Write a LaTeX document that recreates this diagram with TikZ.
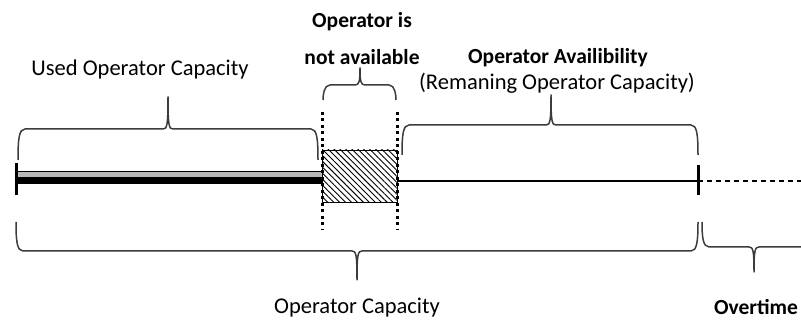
\documentclass[tikz,border=0pt]{standalone}
\usepackage{fontspec}
\setmainfont{Carlito}
\usetikzlibrary{patterns.meta}
\definecolor{bracegray}{RGB}{60,60,60}

\begin{document}
\begin{tikzpicture}[x=1pt, y=1pt,
    lbl/.style={inner sep=0pt, font=\fontsize{22.5}{26}\selectfont},
    lblb/.style={lbl, font=\fontsize{21.5}{25}\selectfont\bfseries},
    bracel/.style={draw=bracegray, line width=1.5pt, line join=round},
    timeline/.style={line width=1.3pt},
    dotline/.style={line width=3pt, dash pattern=on 3pt off 3.5pt}
  ]
  \useasboundingbox (0,0) rectangle (801,320);

  % time line
  \fill[black] (16,136) rectangle (322,149);
  \fill[gray!55] (16,143) rectangle (322,148);
  \coordinate (t0) at (16,139);
  \coordinate (t1) at (397,139);
  \coordinate (t2) at (698,139);
  \coordinate (t3) at (801,139);
  \draw[timeline] (t1) -- (t2);
  \draw[timeline, dash pattern=on 5pt off 4pt] (t2) -- (t3);
  \draw[line width=3pt] (16,125) -- (16,157);
  \draw[line width=3pt] (698,125) -- (698,155);

  % blocked slot
  \draw[line width=0.9pt, pattern={Lines[angle=-45, distance=4.2pt, line width=0.9pt]}]
    (322,118) rectangle (397,170);
  \foreach \x in {322, 397}
    \draw[dotline] (\x,208) -- (\x,90);

  % braces: x1/x2/leg end/flat/tip x/tip y/direction
  \foreach \xa/\xb/\ye/\yf/\xt/\yt/\s in {18/318/160/191/168/223/1,
      323/396/220/235/360/252/1, 402/698/165/195/551/225/1,
      16/698/98/69/357/40/-1, 702/830/98/73/754/48/-1}
    \draw[bracel] (\xa,\ye) .. controls (\xa,{\yf-\s*10}) and ({\xa+1},\yf) .. ({\xa+7},\yf)
      -- ({\xt-5},\yf) .. controls ({\xt-1},\yf) and (\xt,{\yf+\s*3}) .. (\xt,\yt)
      .. controls (\xt,{\yf+\s*3}) and ({\xt+1},\yf) .. ({\xt+5},\yf)
      -- ({\xb-7},\yf) .. controls ({\xb-1},\yf) and (\xb,{\yf-\s*10}) .. (\xb,\ye);

  % labels
  \node[lbl] (used) at (140,250) {Used Operator Capacity};
  \node[lblb] (na1) at (362,298) {Operator is};
  \node[lblb] (na2) at (362,263) {not available};
  \node[lblb] (avail) at (558,262) {Operator Availibility};
  \node[lbl] (remain) at (557,237) {(Remaning Operator Capacity)};
  \node[lbl] (cap) at (357,12) {Operator Capacity};
  \node[lblb] (over) at (756,13) {Overtime};
\end{tikzpicture}
\end{document}
